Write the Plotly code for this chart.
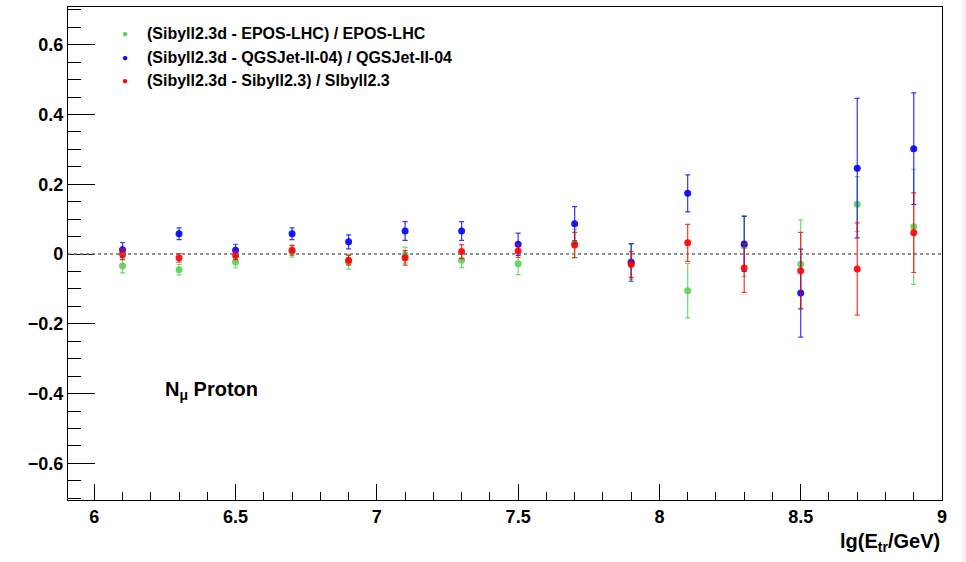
import plotly.graph_objects as go

x_vals = [6.1, 6.3, 6.5, 6.7, 6.9, 7.1, 7.3, 7.5, 7.7, 7.9, 8.1, 8.3, 8.5, 8.7, 8.9]

epos_y = [-0.034, -0.045, -0.023, 0.008, -0.022, -0.003, -0.018, -0.028, 0.030, -0.022, -0.105, 0.023, -0.029, 0.143, 0.078]
epos_err = [0.020, 0.015, 0.017, 0.017, 0.021, 0.023, 0.021, 0.031, 0.041, 0.050, 0.078, 0.087, 0.127, 0.079, 0.165]

qgs_y = [0.012, 0.058, 0.011, 0.058, 0.035, 0.066, 0.066, 0.028, 0.087, -0.024, 0.174, 0.029, -0.112, 0.246, 0.302]
qgs_err = [0.021, 0.017, 0.017, 0.017, 0.020, 0.027, 0.027, 0.032, 0.049, 0.054, 0.053, 0.079, 0.126, 0.200, 0.160]

sib_y = [-0.001, -0.011, -0.004, 0.011, -0.018, -0.011, 0.007, 0.009, 0.026, -0.030, 0.032, -0.040, -0.048, -0.043, 0.061]
sib_err = [0.015, 0.012, 0.012, 0.014, 0.014, 0.021, 0.020, 0.019, 0.036, 0.037, 0.053, 0.070, 0.110, 0.132, 0.114]

labels = ["(Sibyll2.3d - EPOS-LHC) / EPOS-LHC",
          "(Sibyll2.3d - QGSJet-II-04) / QGSJet-II-04",
          "(Sibyll2.3d - Sibyll2.3) / SIbyll2.3"]
colors = ["rgb(90,208,90)", "rgb(0,0,255)", "rgb(255,0,0)"]
err_colors = ["rgba(90,208,90,0.85)", "rgba(0,0,255,0.8)", "rgba(255,0,0,0.8)"]

FONT = "Liberation Sans, Arial, Helvetica, sans-serif"

fig = go.Figure()
for y, e, name, c, ec in zip([epos_y, qgs_y, sib_y], [epos_err, qgs_err, sib_err], labels, colors, err_colors):
    fig.add_trace(go.Scatter(
        x=x_vals, y=y, mode="markers", name=name,
        marker=dict(color=c, size=7, opacity=0.9),
        error_y=dict(type="data", array=e, visible=True, color=ec, thickness=1.2, width=2.5),
        showlegend=False,
    ))

# zero line
fig.add_shape(type="line", xref="paper", yref="y", x0=0, x1=1, y0=0, y1=0,
              line=dict(color="rgb(110,110,110)", width=1.5, dash="dot"))

# legend (manual, ROOT style)
leg_y = [0.946, 0.898, 0.851]
for ly, name, c in zip(leg_y, labels, colors):
    fig.add_annotation(xref="paper", yref="paper", x=0.0655, y=ly, text="●", showarrow=False,
                       font=dict(color=c, size=10, family=FONT), xanchor="center", yanchor="middle")
    fig.add_annotation(xref="paper", yref="paper", x=0.088, y=ly, text=name, showarrow=False,
                       font=dict(color="black", size=16, family=FONT, weight="bold"),
                       xanchor="left", yanchor="middle")

fig.add_annotation(xref="paper", yref="paper", x=0.109, y=0.222,
                   text="N<sub>μ</sub> Proton", showarrow=False,
                   font=dict(color="black", size=20, family=FONT, weight="bold"),
                   xanchor="left", yanchor="middle")

# x title
fig.add_annotation(xref="paper", yref="paper", x=1.0, y=-0.056,
                   text="lg(E<sub>tr</sub>/GeV)", showarrow=False,
                   font=dict(color="black", size=20, family=FONT, weight="bold"),
                   xanchor="right", yanchor="top")

# gray strip on right
fig.add_shape(type="rect", xref="paper", yref="paper", x0=1.0 + 20/874, x1=1.0 + 24/874 + 0.01,
              y0=-62/493 - 0.02, y1=1 + 7/493 + 0.02, fillcolor="rgb(242,242,242)", line=dict(width=0), layer="below")

fig.update_xaxes(range=[5.907, 9.0], showgrid=False, zeroline=False,
                 showline=True, linecolor="black", linewidth=1.3, mirror=True,
                 ticks="inside", ticklen=16, tickcolor="black", tickwidth=1,
                 tickvals=[6, 6.5, 7, 7.5, 8, 8.5, 9], ticktext=["6", "6.5", "7", "7.5", "8", "8.5", "9"],
                 tickfont=dict(size=18, family=FONT, color="black", weight="bold"),
                 minor=dict(ticks="inside", dtick=0.1, tick0=6, ticklen=8, tickcolor="black", tickwidth=1, showgrid=False))
fig.update_yaxes(range=[-0.705, 0.708], showgrid=False, zeroline=False,
                 showline=True, linecolor="black", linewidth=1.3, mirror=True,
                 ticks="inside", ticklen=27, tickcolor="black", tickwidth=1,
                 tickvals=[-0.6, -0.4, -0.2, 0, 0.2, 0.4, 0.6],
                 ticktext=["−0.6", "−0.4", "−0.2", "0", "0.2", "0.4", "0.6"],
                 tickfont=dict(size=18, family=FONT, color="black", weight="bold"),
                 minor=dict(ticks="inside", dtick=0.05, tick0=0, ticklen=13, tickcolor="black", tickwidth=1, showgrid=False))

fig.update_layout(width=966, height=562, margin=dict(l=68, r=24, t=7, b=62),
                  plot_bgcolor="white", paper_bgcolor="white", showlegend=False)

fig.write_html("out.html")
